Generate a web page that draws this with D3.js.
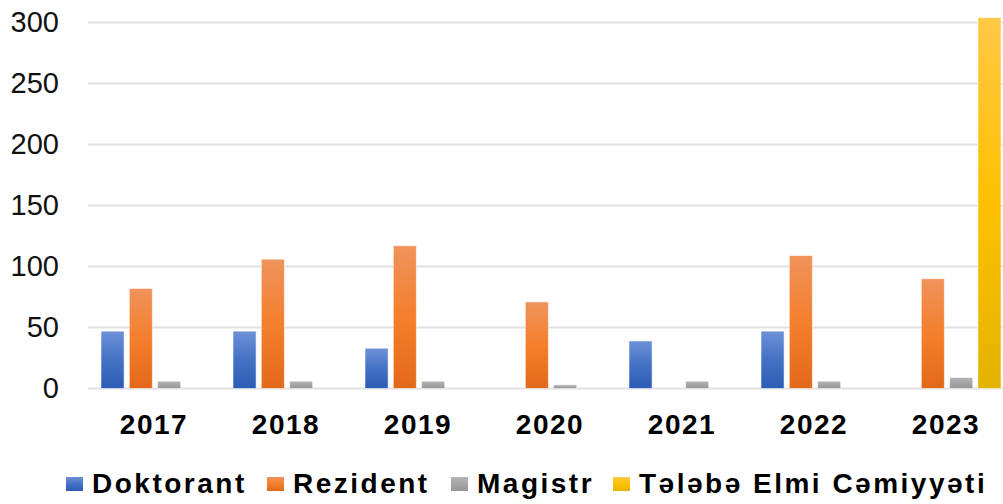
<!DOCTYPE html>
<html>
<head>
<meta charset="utf-8">
<script src="https://cdn.jsdelivr.net/npm/d3@7"></script>
<style>
  body { margin: 0; background: #fff; }
  text { font-family: Arial, "Liberation Sans", sans-serif; }
</style>
</head>
<body>
<script>
var years = ['2017', '2018', '2019', '2020', '2021', '2022', '2023']
var series = ['Doktorant', 'Rezident', 'Magistr', 'Tələbə Elmi Cəmiyyəti']
var doktorant = [47, 47, 33, 0, 39, 47, 0]
var rezident = [82, 106, 117, 71, 0, 109, 90]
var magistr = [6, 6, 6, 3, 6, 6, 9]
var telebe = [0, 0, 0, 0, 0, 0, 304]
var yTicks = [0, 50, 100, 150, 200, 250, 300]

var values = [doktorant, rezident, magistr, telebe]
var colors = [
  ['#6d91d8', '#4472c4', '#2c5bb5'],
  ['#f0935c', '#f47f2c', '#e2691a'],
  ['#b4b4b4', '#a5a5a5', '#969696'],
  ['#ffc845', '#ffc000', '#e3b300']
]

var w = 1003
var h = 504
var margin = { top: 22.5, left: 88, bottom: 115.5 }
var height = h - margin.top - margin.bottom

var svg = d3.select('body')
  .append('svg')
  .attr('width', w)
  .attr('height', h)

var defs = svg.append('defs')
colors.forEach(function (c, i) {
  var g = defs.append('linearGradient')
    .attr('id', 'grad' + i)
    .attr('x1', 0).attr('y1', 0).attr('x2', 0).attr('y2', 1)
  g.append('stop').attr('offset', '0%').attr('stop-color', c[0])
  g.append('stop').attr('offset', '50%').attr('stop-color', c[1])
  g.append('stop').attr('offset', '100%').attr('stop-color', c[2])
})

var chart = svg.append('g')
  .attr('transform', 'translate(' + margin.left + ',' + margin.top + ')')

var x0 = d3.scaleBand()
  .domain(years)
  .range([0, 7 * 132])

var x1 = d3.scaleBand()
  .domain(series)
  .range([13, 121])
  .paddingInner(0.184)

var y = d3.scaleLinear()
  .domain([0, 300])
  .range([height, 0])

// gridlines
chart.selectAll('.grid')
  .data(yTicks)
  .enter()
  .append('line')
  .attr('x1', 0)
  .attr('x2', w)
  .attr('y1', function (d) { return y(d) })
  .attr('y2', function (d) { return y(d) })
  .attr('stroke', '#dfe1e5')
  .attr('stroke-width', 2)

// y labels
var yAxis = d3.axisLeft(y).tickValues(yTicks).tickSize(0).tickPadding(29)
chart.append('g')
  .call(yAxis)
  .call(function (g) {
    g.select('.domain').remove()
    g.selectAll('text')
      .attr('font-size', 29)
      .attr('fill', '#111')
      .attr('dy', '0.3em')
      .style('font-family', 'Arial, "Liberation Sans", sans-serif')
  })

// bars
var groups = chart.selectAll('.year')
  .data(years)
  .enter()
  .append('g')
  .attr('transform', function (d) { return 'translate(' + x0(d) + ',0)' })

groups.selectAll('rect')
  .data(function (d, i) {
    return series.map(function (s, j) { return { s: s, j: j, v: values[j][i] } })
  })
  .enter()
  .filter(function (d) { return d.v > 0 })
  .append('rect')
  .attr('x', function (d) { return x1(d.s) })
  .attr('width', x1.bandwidth())
  .attr('y', function (d) { return y(d.v) })
  .attr('height', function (d) { return y(0) - y(d.v) })
  .attr('fill', function (d) { return 'url(#grad' + d.j + ')' })
  .attr('stroke', 'rgba(255,255,255,0.55)')
  .attr('stroke-width', 1)

// x labels
var xAxis = d3.axisBottom(x0).tickSize(0).tickPadding(26)
chart.append('g')
  .attr('transform', 'translate(0,' + height + ')')
  .call(xAxis)
  .call(function (g) {
    g.select('.domain').remove()
    g.selectAll('text')
      .attr('font-size', 28)
      .attr('font-weight', 'bold')
      .attr('fill', '#000')
      .attr('letter-spacing', 1.5)
      .style('font-family', 'Arial, "Liberation Sans", sans-serif')
  })

// legend
var legendX = [66, 267, 451, 613]
var legend = svg.selectAll('.legend')
  .data(series)
  .enter()
  .append('g')
  .attr('transform', function (d, i) { return 'translate(' + legendX[i] + ',477)' })

legend.append('rect')
  .attr('width', 17)
  .attr('height', 14)
  .attr('fill', function (d, i) { return 'url(#grad' + i + ')' })

legend.append('text')
  .attr('x', 26)
  .attr('y', 16)
  .attr('font-size', 28)
  .attr('font-weight', 'bold')
  .attr('letter-spacing', 2.5)
  .text(function (d) { return d })
</script>
</body>
</html>
